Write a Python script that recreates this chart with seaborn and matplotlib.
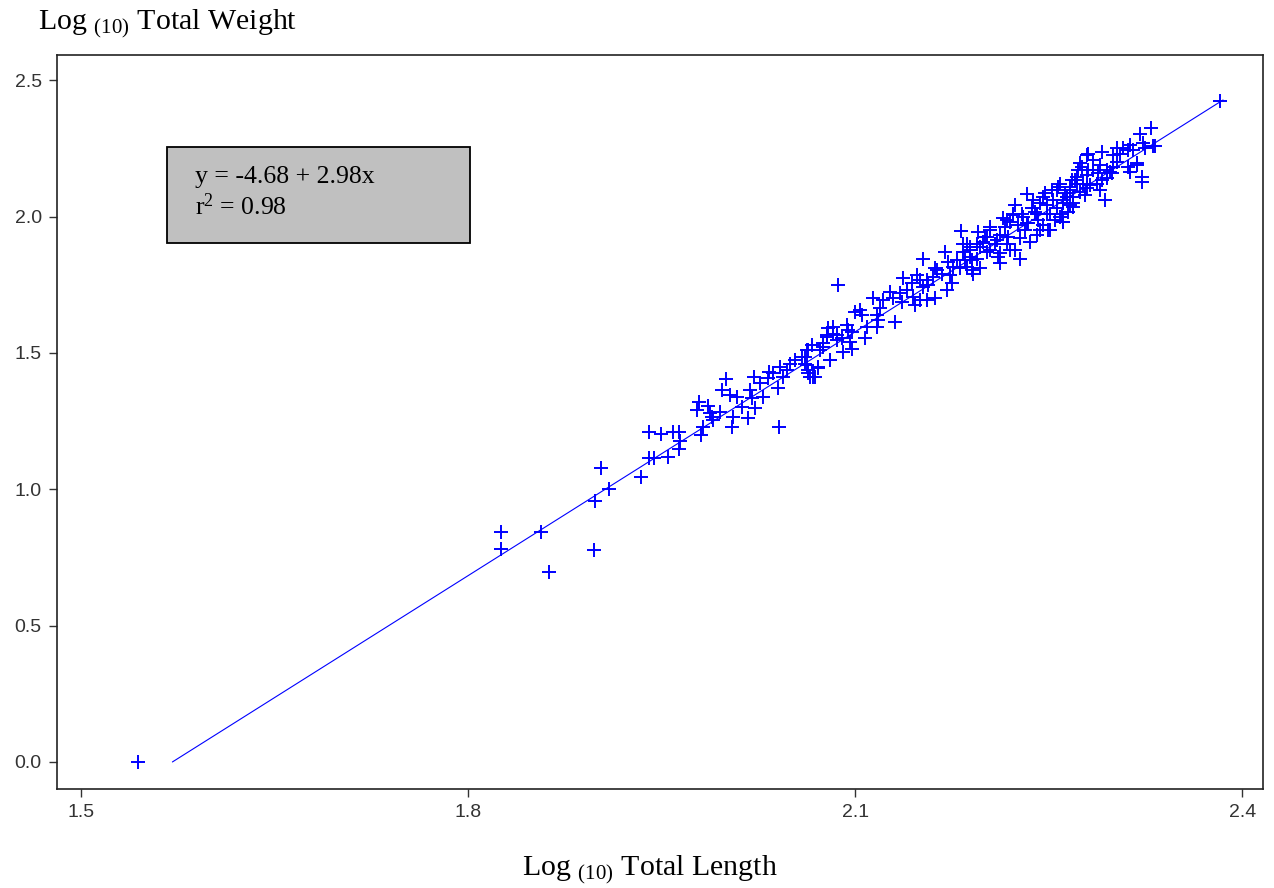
import matplotlib
matplotlib.use("Agg")
import matplotlib.pyplot as plt
import seaborn as sns
import pandas as pd
from matplotlib.patches import Rectangle

# ---- data (log10 total length, log10 total weight) ----
log_length = [
    1.5438, 1.8252, 1.8252, 1.8562, 1.8624, 1.8973, 1.8981, 1.9027, 1.9089, 1.9337,
    1.9399, 1.9438, 1.9547, 1.9399, 1.9492, 1.9585, 1.9632, 1.9640, 1.9632,
    1.9787, 1.9774, 1.9859, 1.9872, 1.9885, 1.9898, 1.9820, 1.9800, 1.9950, 1.9963,
    1.9996, 2.0027, 2.0053, 2.0040, 2.0079, 2.0118, 2.0169, 2.0182, 2.0195, 2.0213,
    2.0221, 2.0285, 2.0260, 2.0324, 2.0332, 2.0363, 2.0402, 2.0407, 2.0415, 2.0440,
    2.0467, 2.0531, 2.0583, 2.0609, 2.0622, 2.0634, 2.0647, 2.0686, 2.0712, 2.0660,
    2.0750, 2.0802, 2.0777, 2.0828, 2.0854,
    2.0867, 2.1521, 2.1035, 2.0996, 2.1048, 2.1138, 2.1164, 2.1177, 2.1164, 2.1216,
    2.1190, 2.1267, 2.1293, 2.1306, 2.1345, 2.1358, 2.1371, 2.1397, 2.1436, 2.1448,
    2.1461, 2.1474, 2.1500, 2.1552, 2.1564, 2.1603, 2.1616, 2.1616, 2.0828, 2.0789,
    2.0854, 2.0777, 2.0893, 2.0932, 2.0944, 2.0971, 2.0957, 2.0971, 2.0905, 2.1074,
    2.1087, 2.0750, 2.0725, 2.0802, 2.0634, 2.0609, 2.0622, 2.0712, 2.0673, 2.0634,
    2.0492,
    2.1816, 2.1694, 2.1719, 2.1629, 2.1668, 2.1733, 2.1758, 2.1784, 2.1810, 2.1746,
    2.1707, 2.1836, 2.1862, 2.1888, 2.1901, 2.1939, 2.1952, 2.1965, 2.1991, 2.2017,
    2.2043, 2.2043, 2.2081, 2.2107, 2.2120, 2.2146, 2.2159, 2.2185, 2.2198, 2.2237,
    2.2237, 2.2275, 2.2262, 2.2288, 2.2314, 2.2340, 2.2353, 2.2332, 2.2392, 2.2417,
    2.2430, 2.2456, 2.2469, 2.2494, 2.2508, 2.2533, 2.2560, 2.2572, 2.2585, 2.2611,
    2.2637, 2.2663, 2.2688, 2.2715, 2.1552, 2.1526, 2.1500,
    2.3288, 2.3205, 2.3322, 2.3231, 2.3244, 2.3153, 2.3115, 2.3128, 2.3076, 2.3050,
    2.3025, 2.2998, 2.2908, 2.2805, 2.2843, 2.3025, 2.2998, 2.2973, 2.3115, 2.3180,
    2.3128, 2.3219, 2.3219, 2.2934, 2.2895, 2.2908, 2.2740, 2.2727, 2.2843, 2.2882,
    2.2792, 2.2947, 2.2766, 2.2818, 2.2702, 2.2663, 2.2740, 2.2688, 2.2779, 2.2624,
    2.2611, 2.2663, 2.2598, 2.2611, 2.2688, 2.3826,
    2.3309, 2.3180, 2.2792, 2.1913, 2.1965, 2.1862, 2.1888, 2.1836, 2.2043, 2.2095,
    2.2120, 2.2198, 2.2172, 2.2224, 2.2327, 2.2430, 2.2508, 2.2366, 2.2456, 2.2560,
    2.2585, 2.2637, 2.2676, 2.2715, 2.2792, 2.2870, 2.2895, 2.2947, 2.2986, 2.2805,
    2.2753, 2.2483, 2.2405, 2.2301, 2.2004, 2.1939, 2.1888,
    2.2521, 2.2611, 2.2650, 2.2547, 2.2405, 2.2275, 2.2172, 2.2017, 2.2120, 2.1901,
    2.1849, 2.2224, 2.2379, 2.2483,
]
log_weight = [
    0.000, 0.843, 0.781, 0.843, 0.696, 0.777, 0.957, 1.078, 1.001, 1.045,
    1.114, 1.114, 1.118, 1.210, 1.202, 1.210, 1.210, 1.177, 1.147,
    1.321, 1.290, 1.305, 1.278, 1.264, 1.254, 1.229, 1.199, 1.284, 1.364,
    1.403, 1.345, 1.266, 1.229, 1.339, 1.302, 1.260, 1.364, 1.333, 1.412,
    1.297, 1.339, 1.388, 1.407, 1.431, 1.425, 1.370, 1.229, 1.449, 1.412,
    1.437, 1.474, 1.486, 1.461, 1.510, 1.437, 1.412, 1.412, 1.449, 1.529,
    1.522, 1.474, 1.565, 1.571, 1.547,
    1.748, 1.843, 1.657, 1.651, 1.639, 1.700, 1.639, 1.620, 1.596, 1.694,
    1.663, 1.724, 1.700, 1.614, 1.718, 1.687, 1.773, 1.730, 1.755, 1.706,
    1.675, 1.785, 1.767, 1.694, 1.748, 1.779, 1.700, 1.810, 1.596, 1.590,
    1.565, 1.559, 1.553, 1.602, 1.584, 1.577, 1.541, 1.516, 1.504, 1.553,
    1.596, 1.535, 1.510, 1.474, 1.510, 1.486, 1.455, 1.444, 1.412, 1.425,
    1.461,
    1.948, 1.871, 1.834, 1.803, 1.791, 1.785, 1.816, 1.840, 1.810, 1.755,
    1.730, 1.871, 1.901, 1.877, 1.840, 1.846, 1.944, 1.889, 1.907, 1.926,
    1.962, 1.877, 1.901, 1.852, 1.932, 1.993, 1.962, 1.926, 1.981, 2.042,
    1.877, 1.843, 1.968, 2.011, 1.950, 1.975, 1.907, 2.081, 2.017, 1.987,
    2.048, 1.968, 2.085, 1.950, 2.011, 2.060, 2.030, 2.109, 1.999, 1.981,
    2.072, 2.097, 2.048, 2.121, 1.767, 1.742, 1.694,
    2.323, 2.302, 2.258, 2.268, 2.250, 2.243, 2.243, 2.262, 2.250, 2.231,
    2.250, 2.225, 2.237, 2.231, 2.207, 2.200, 2.182, 2.164, 2.182, 2.188,
    2.164, 2.146, 2.127, 2.060, 2.097, 2.133, 2.195, 2.170, 2.170, 2.158,
    2.152, 2.140, 2.121, 2.115, 2.133, 2.109, 2.090, 2.072, 2.078, 2.085,
    2.048, 2.042, 2.011, 1.981, 2.036, 2.423,
    2.258, 2.195, 2.225, 1.791, 1.810, 1.816, 1.852, 1.901, 1.950, 1.913,
    1.865, 1.877, 1.987, 2.011, 1.975, 1.950, 1.950, 2.030, 2.072, 2.097,
    2.121, 2.072, 2.133, 2.146, 2.103, 2.121, 2.188, 2.170, 2.158, 2.170,
    2.182, 2.011, 2.011, 1.999, 1.926, 1.901, 1.889,
    2.097, 2.060, 2.017, 1.987, 1.932, 1.920, 1.901, 1.871, 1.828, 1.803,
    1.840, 2.005, 2.060, 2.042,
]

# regression fit shown on the chart
intercept = -4.68
slope = 2.98
fit_length = [1.5705, 2.3850]
fit_weight = [intercept + slope * v for v in fit_length]

eq_label = "y = -4.68 + 2.98x"
r2_label = "r$^{2}$ = 0.98"
x_ticks = [1.5, 1.8, 2.1, 2.4]
y_ticks = [0.0, 0.5, 1.0, 1.5, 2.0, 2.5]

df = pd.DataFrame({"length": log_length, "weight": log_weight})
fit_df = pd.DataFrame({"length": fit_length, "weight": fit_weight})

sns.set_style("white")
plt.rcParams["font.family"] = ["Liberation Sans", "DejaVu Sans"]
plt.rcParams["text.color"] = "black"
plt.rcParams["mathtext.fontset"] = "custom"
plt.rcParams["mathtext.rm"] = "Liberation Serif"
plt.rcParams["mathtext.it"] = "Liberation Serif:italic"

fig = plt.figure(figsize=(12.74, 8.88), dpi=100)
ax = fig.add_axes([0.0447, 0.1115, 0.9467, 0.8265])

sns.lineplot(data=fit_df, x="length", y="weight", ax=ax, color="#0000FF",
             linewidth=0.8, legend=False)
sns.scatterplot(data=df, x="length", y="weight", ax=ax, marker="+",
                color="#0000FF", s=110, linewidth=1.4, legend=False)

ax.set_xlim(1.481, 2.416)
ax.set_ylim(-0.099, 2.592)
ax.set_xticks(x_ticks)
ax.set_yticks(y_ticks)
ax.set_xticklabels([f"{v:.1f}" for v in x_ticks])
ax.set_yticklabels([f"{v:.1f}" for v in y_ticks])
ax.tick_params(direction="out", length=6, width=1, colors="#333333",
               labelsize=14, pad=5, left=True, bottom=True)
ax.set_xlabel("")
ax.set_ylabel("")
for sp in ax.spines.values():
    sp.set_color("#222222")
    sp.set_linewidth(1.2)
    sp.set_visible(True)

# equation box
ax.add_patch(Rectangle((0.0912, 0.744), 0.2513, 0.1307, transform=ax.transAxes,
                       facecolor="#C0C0C0", edgecolor="black", linewidth=1.3,
                       zorder=3))
ax.text(0.1145, 0.834, eq_label, transform=ax.transAxes, fontsize=18.5,
        family="Liberation Serif", color="black", va="center", ha="left", zorder=4)
ax.text(0.1145, 0.794, r2_label, transform=ax.transAxes, fontsize=18.5,
        family="Liberation Serif", color="black", va="center", ha="left", zorder=4)

# axis titles
fig.text(38 / 1274, 1 - 24 / 888, r"Log $_{\mathrm{(10)}}$ Total Weight",
         fontsize=21.5, family="Liberation Serif", color="black",
         ha="left", va="center")
fig.text(650 / 1274, 1 - 870 / 888, r"Log $_{\mathrm{(10)}}$ Total Length",
         fontsize=21.5, family="Liberation Serif", color="black",
         ha="center", va="center")

fig.savefig("out.png", dpi=100, facecolor="white")
